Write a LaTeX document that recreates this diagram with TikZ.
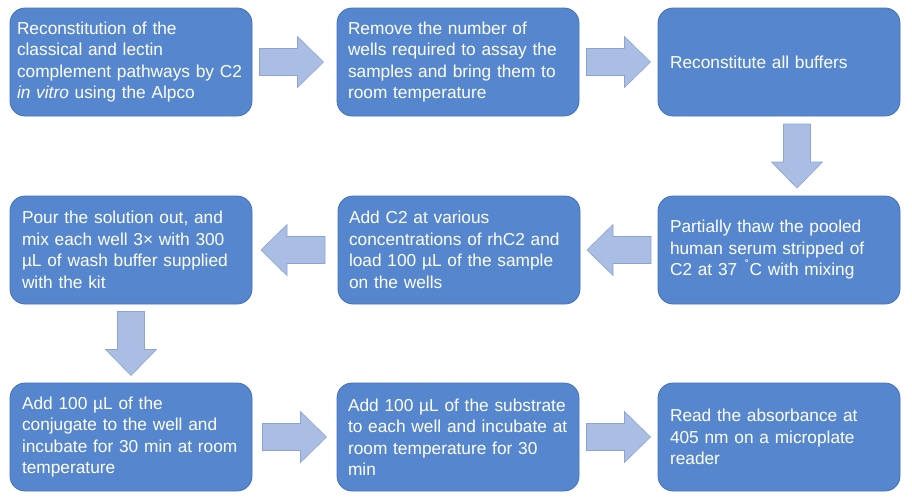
\documentclass[tikz,border=0pt]{standalone}
\usepackage{fontspec}
\setmainfont{Liberation Sans}
\usetikzlibrary{calc}
\definecolor{boxfill}{RGB}{86,135,206}
\definecolor{boxline}{RGB}{68,114,186}
\definecolor{arrfill}{RGB}{170,190,228}
\definecolor{arrline}{RGB}{140,164,212}
\newcommand{\Ln}[1]{\mbox{#1}}
\tikzset{
  box/.style={rounded corners=15pt, fill=boxfill, draw=boxline, line width=0.8pt,
    minimum height=108pt, inner ysep=0pt, inner xsep=12pt, text width=218pt,
    align=left, text=white, font=\fontsize{17.3}{21.5}\selectfont},
  boxnarrow/.style={box, inner xsep=7pt, text width=228pt},
  boxmid/.style={box, inner xsep=11pt, text width=220pt},
  barrow/.style={fill=arrfill, draw=arrline, line width=0.6pt, line join=miter},
  rarrow/.pic={\path[barrow] (-32,-13.5) -- (6,-13.5) -- (6,-25.5) -- (32,0) -- (6,25.5) -- (6,13.5) -- (-32,13.5) -- cycle;}
}
\begin{document}
\begin{tikzpicture}[x=1pt,y=-1pt]
\useasboundingbox (0,0) rectangle (912,498);
% row 1
\node[boxnarrow] (b1) at (131,62) {\Ln{Reconstitution of the}\\\Ln{classical and lectin}\\\Ln{complement pathways by C2}\\\Ln{\textit{in vitro} using the Alpco}};
\node[boxmid] (b2) at (458,62) {\Ln{Remove the number of}\\\Ln{wells required to assay the}\\\Ln{samples and bring them to}\\\Ln{room temperature}};
\node[box] (b3) at (779,62) {Reconstitute all buffers};
% row 2
\node[box] (b4) at (779,250) {\Ln{Partially thaw the pooled}\\\Ln{human serum stripped of}\\\Ln{C2 at 37 \textsuperscript{\,˚}C with mixing}};
\node[boxmid] (b5) at (459,250) {\Ln{Add C2 at various}\\\Ln{concentrations of rhC2 and}\\\Ln{load 100 µL of the sample}\\\Ln{on the wells}};
\node[box] (b6) at (131,250) {\Ln{Pour the solution out, and}\\\Ln{mix each well 3× with 300}\\\Ln{µL of wash buffer supplied}\\\Ln{with the kit}};
% row 3
\node[box] (b7) at (131,437) {\Ln{Add 100 µL of the}\\\Ln{conjugate to the well and}\\\Ln{incubate for 30 min at room}\\\Ln{temperature}};
\node[boxmid] (b8) at (458,437) {\Ln{Add 100 µL of the substrate}\\\Ln{to each well and incubate at}\\\Ln{room temperature for 30}\\\Ln{min}};
\node[box] (b9) at (779,437) {\Ln{Read the absorbance at}\\\Ln{405 nm on a microplate}\\\Ln{reader}};
% arrows
\pic at ($(b1.east)!0.5!(b2.west)+(-3,0)$) {rarrow};
\pic at ($(b2.east)!0.5!(b3.west)$) {rarrow};
\pic[rotate=-90] at ($(b3.south)!0.5!(b4.north)+(18,0)$) {rarrow};
\pic[rotate=180] at ($(b4.west)!0.5!(b5.east)$) {rarrow};
\pic[rotate=180] at ($(b5.west)!0.5!(b6.east)+(-2,0)$) {rarrow};
\pic[rotate=-90] at ($(b6.south)!0.5!(b7.north)$) {rarrow};
\pic at ($(b7.east)!0.5!(b8.west)$) {rarrow};
\pic at ($(b8.east)!0.5!(b9.west)$) {rarrow};
\end{tikzpicture}
\end{document}
